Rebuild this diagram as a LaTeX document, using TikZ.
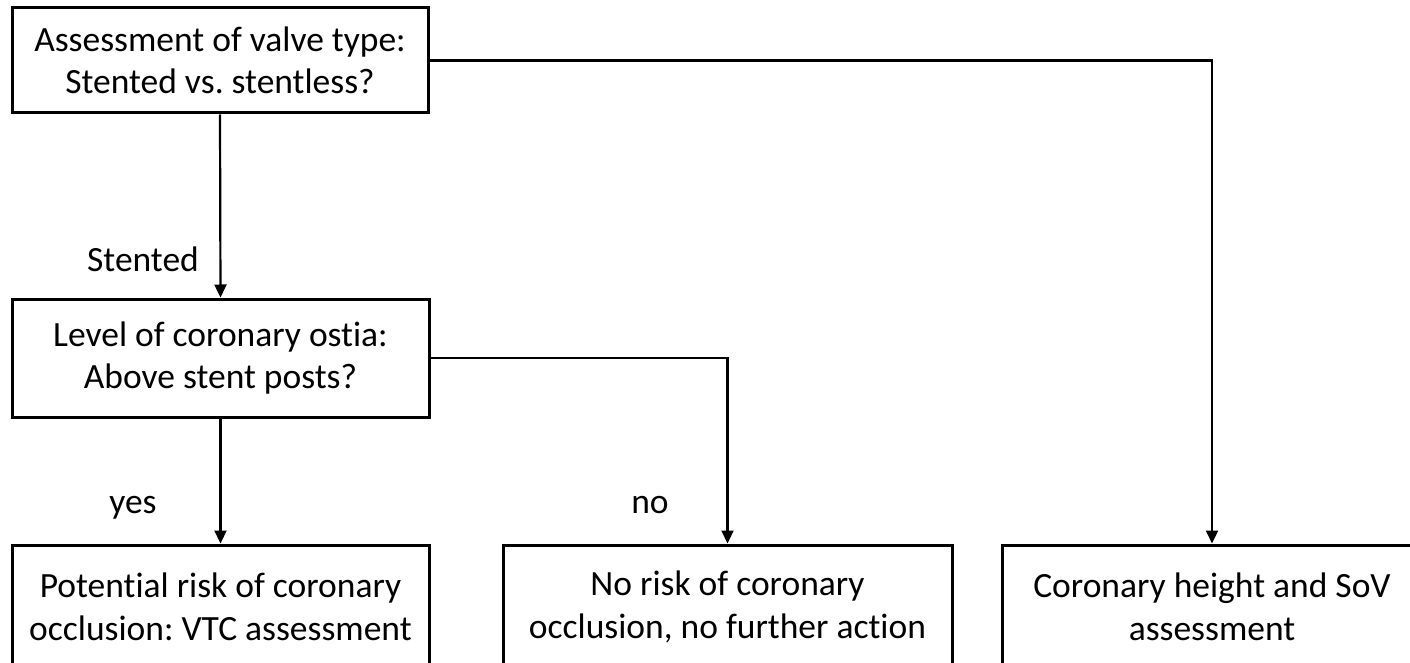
\documentclass[tikz,border=0pt]{standalone}
\usepackage{fontspec}
\setmainfont{Carlito}[Ligatures=NoCommon]
\usepackage{tikz}
\usetikzlibrary{arrows.meta,positioning}
\frenchspacing

\tikzset{
  flowbox/.style={draw,line width=3pt,align=center,inner sep=0pt,
    font=\fontsize{35.5}{42.5}\selectfont},
  flowlink/.style={line width=2.2pt,-{Triangle[length=13pt,width=12pt]}},
  branchlbl/.style={anchor=base,font=\fontsize{35.5}{42.5}\selectfont}
}

\begin{document}
\begin{tikzpicture}[x=1pt,y=-1pt]
    \clip (0,0) rectangle (1410,663);
    \fill[white] (0,0) rectangle (1410,663);
    % decision boxes
    \node[flowbox,minimum width=416pt,minimum height=105pt] (valve) at (220,60.5) {Assessment of valve type:\\Stented vs. stentless?};
    \node[flowbox,minimum width=417pt,minimum height=118pt] (ostia) at (220.5,358) {Level of coronary ostia:\\Above stent posts?};
    % outcome boxes, cut at the bottom
    \node[flowbox,minimum width=417pt,minimum height=124pt] (vtc) at (220.5,607) {Potential risk of coronary\\occlusion: VTC assessment};
    \node[flowbox,minimum width=449pt,minimum height=124pt] (norisk) at (727.5,607) {No risk of coronary\\occlusion, no further action};
    \node[flowbox,minimum width=420pt,minimum height=124pt] (sov) at (1212,607) {Coronary height and SoV\\assessment};
    % connectors
    \draw[flowlink] (valve.south) -- (ostia.north);
    \draw[flowlink] (valve.east) -| (sov.north);
    \draw[flowlink] (ostia.south) -- (vtc.north);
    \draw[flowlink] (ostia.east) -| (norisk.north);
    \node[branchlbl] (lblstented) at (143,271) {Stented};
    \node[branchlbl] (lblyes) at (133,513) {yes};
    \node[branchlbl] (lblno) at (650,513) {no};
  \end{tikzpicture}
\end{document}
